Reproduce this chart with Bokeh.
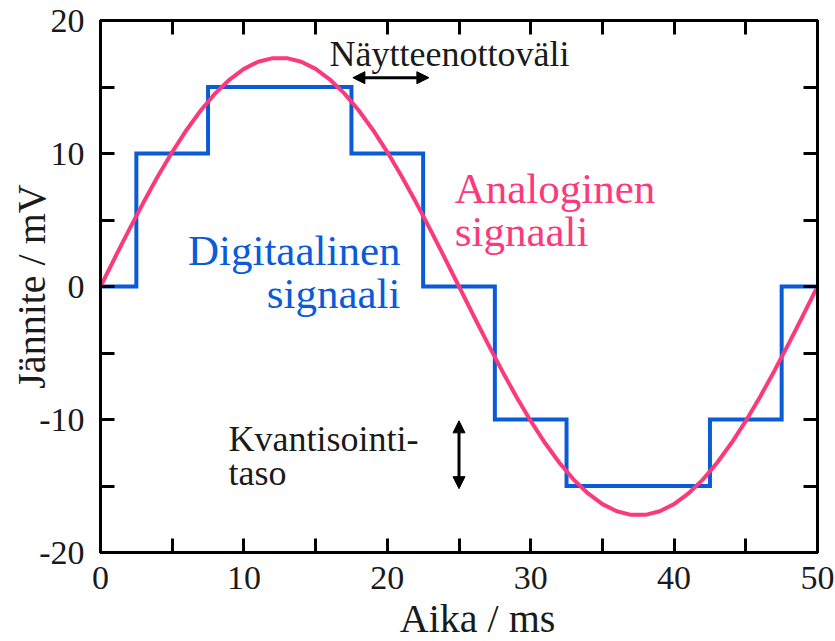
import math
from bokeh.plotting import figure
from bokeh.models import FixedTicker, LinearAxis, Range1d, Arrow, NormalHead, Label
from bokeh.embed import file_html
from bokeh.resources import INLINE

# ---------------- data ----------------
time_ms = [0, 1, 2, 3, 4, 5, 6, 7, 8, 9, 10, 11, 12, 13, 14, 15, 16, 17, 18, 19, 20,
           21, 22, 23, 24, 25, 26, 27, 28, 29, 30, 31, 32, 33, 34, 35, 36, 37, 38, 39,
           40, 41, 42, 43, 44, 45, 46, 47, 48, 49, 50]
analog_mv = [0.0, 2.16, 4.28, 6.33, 8.29, 10.11, 11.77, 13.25, 14.52, 15.56, 16.36,
             16.90, 17.17, 17.17, 16.90, 16.36, 15.56, 14.52, 13.25, 11.77, 10.11,
             8.29, 6.33, 4.28, 2.16, 0.0, -2.16, -4.28, -6.33, -8.29, -10.11, -11.77,
             -13.25, -14.52, -15.56, -16.36, -16.90, -17.17, -17.17, -16.90, -16.36,
             -15.56, -14.52, -13.25, -11.77, -10.11, -8.29, -6.33, -4.28, -2.16, 0.0]

step_edges_ms = [0, 2.5, 7.5, 17.5, 22.5, 27.5, 32.5, 42.5, 47.5, 50]
digital_mv = [0, 10, 15, 10, 0, -10, -15, -10, 0, 0]

x_major_ticks = [0, 10, 20, 30, 40, 50]
x_minor_ticks = [5, 15, 25, 35, 45]
y_major_ticks = [-20, -10, 0, 10, 20]
y_minor_ticks = [-15, -5, 5, 15]
y_tick_labels = ["-20", "-10", "0", "10", "20"]

x_title = "Aika / ms"
y_title = "Jännite / mV"
interval_text = "Näytteenottoväli"
analog_text = ["Analoginen", "signaali"]
digital_text = ["Digitaalinen", "signaali"]
quant_text = ["Kvantisointi-", "taso"]

# ---------------- style ----------------
FONT = "Liberation Serif"
BLUE = "#0a5bd8"
PINK = "#fb3a7d"
BLACK = "#000000"
TEXT = "#1a1a1a"

p = figure(frame_width=717, frame_height=532,
           min_border_left=100, min_border_right=18,
           min_border_top=20, min_border_bottom=89,
           x_range=Range1d(0, 50), y_range=Range1d(-20, 20),
           output_backend="svg", toolbar_location=None,
           x_axis_location=None, y_axis_location=None)
p.grid.visible = False
p.outline_line_color = BLACK
p.outline_line_width = 3
p.background_fill_color = "white"
p.border_fill_color = "white"


def style_axis(ax, show_labels):
    ax.axis_line_color = BLACK
    ax.axis_line_width = 3
    ax.major_tick_in = 14
    ax.major_tick_out = 0
    ax.minor_tick_in = 14
    ax.minor_tick_out = 0
    ax.major_tick_line_width = 3
    ax.minor_tick_line_width = 3
    ax.major_tick_line_color = BLACK
    ax.minor_tick_line_color = BLACK
    if show_labels:
        ax.major_label_text_font = FONT
        ax.major_label_text_font_size = "34px"
        ax.major_label_text_color = TEXT
    else:
        ax.major_label_text_font_size = "0px"
        ax.major_label_standoff = 0


xt = FixedTicker(ticks=x_major_ticks, minor_ticks=x_minor_ticks)
yt = FixedTicker(ticks=y_major_ticks, minor_ticks=y_minor_ticks)

xb = LinearAxis(ticker=xt)
style_axis(xb, True)
xb.major_label_standoff = 14
p.add_layout(xb, "below")

xa = LinearAxis(ticker=xt)
style_axis(xa, False)
xa.major_label_overrides = {t: "" for t in x_major_ticks}
p.add_layout(xa, "above")

yl = LinearAxis(ticker=yt)
style_axis(yl, True)
yl.major_label_standoff = 16
yl.major_label_overrides = dict(zip(y_major_ticks, y_tick_labels))
yl.axis_label = y_title
yl.axis_label_text_font = FONT
yl.axis_label_text_font_size = "40px"
yl.axis_label_text_font_style = "normal"
yl.axis_label_text_color = TEXT
yl.axis_label_standoff = -18
p.add_layout(yl, "left")

yr = LinearAxis(ticker=yt)
style_axis(yr, False)
yr.major_label_overrides = {t: "" for t in y_major_ticks}
p.add_layout(yr, "right")

# x-axis title: a single-tick axis so that it sits where the reference has it
x_title_pos = 26.3
xtitle_ax = LinearAxis(ticker=FixedTicker(ticks=[x_title_pos], minor_ticks=[]))
xtitle_ax.axis_line_color = None
xtitle_ax.major_tick_line_color = None
xtitle_ax.minor_tick_line_color = None
xtitle_ax.major_label_overrides = {x_title_pos: x_title}
xtitle_ax.major_label_text_font = FONT
xtitle_ax.major_label_text_font_size = "40px"
xtitle_ax.major_label_text_color = TEXT
xtitle_ax.major_label_standoff = -2
p.add_layout(xtitle_ax, "below")

# ---------------- series ----------------
p.step(step_edges_ms, digital_mv, mode="after", line_color=BLUE, line_width=4,
       line_join="miter")
p.line(time_ms, analog_mv, line_color=PINK, line_width=4)

# ---------------- annotations ----------------
def head():
    return NormalHead(size=12, fill_color=BLACK, line_color=BLACK, line_width=1)

p.add_layout(Arrow(start=head(), end=head(), x_start=17.6, y_start=15.7,
                   x_end=22.9, y_end=15.7, line_width=3, line_color=BLACK))
p.add_layout(Arrow(start=head(), end=head(), x_start=25.0, y_start=-10.1,
                   x_end=25.0, y_end=-15.2, line_width=3, line_color=BLACK))


def label(x, y, text, color, size, align="left"):
    p.add_layout(Label(x=x, y=y, text=text, text_color=color, text_font=FONT,
                       text_font_size=size, text_align=align,
                       text_baseline="alphabetic"))


label(24.34, 17.45, interval_text, TEXT, "36px", "center")
label(24.70, 7.37, analog_text[0], PINK, "43px")
label(24.70, 4.14, analog_text[1], PINK, "43px")
label(20.92, 2.71, digital_text[0], BLUE, "43px", "right")
label(20.92, -0.52, digital_text[1], BLUE, "43px", "right")
label(8.93, -11.43, quant_text[0], TEXT, "36px")
label(8.93, -14.06, quant_text[1], TEXT, "36px")

open("out.html", "w").write(file_html(p, INLINE))
